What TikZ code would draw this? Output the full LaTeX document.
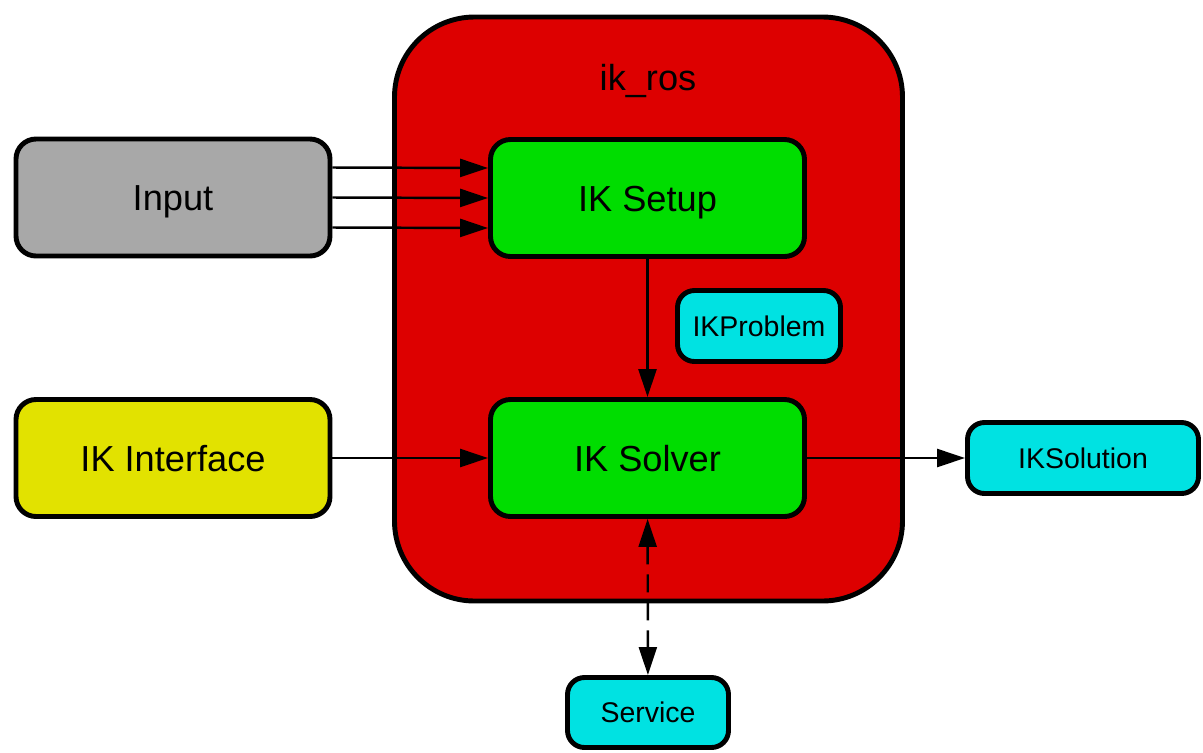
\documentclass[tikz,border=0pt]{standalone}
\usepackage{fontspec}
\setmainfont{Liberation Sans}
\usetikzlibrary{arrows.meta}
\definecolor{rosred}{RGB}{221,0,0}
\definecolor{setupgreen}{RGB}{0,221,0}
\definecolor{inputgray}{RGB}{168,168,168}
\definecolor{ifyellow}{RGB}{226,226,0}
\definecolor{msgcyan}{RGB}{0,226,226}
\tikzset{
  bigbox/.style={draw, line width=1.4pt, rounded corners=0.2cm, inner sep=0,
    minimum width=3.14cm, minimum height=1.17cm, text height=0.26cm, text depth=0pt,
    font=\fontsize{10.3}{12}\selectfont},
  msgbox/.style={draw, line width=1.4pt, rounded corners=0.17cm, inner sep=0,
    fill=msgcyan, minimum height=0.71cm, text height=0.205cm, text depth=0pt,
    font=\fontsize{8.1}{10}\selectfont},
  arr/.style={line width=0.7pt, -{Triangle[length=0.28cm,width=0.18cm]}}
}
\begin{document}
\begin{tikzpicture}
      \useasboundingbox (0,0) rectangle (12.03,7.52);
      \draw[line width=1.4pt, fill=rosred, rounded corners=0.8cm]
        (3.945,7.35) rectangle (9.025,1.51);
      \draw
        (6.48,6.75) node[font=\fontsize{10.3}{12}\selectfont, text height=0.26cm, text depth=0pt] (title){ik\_ros}
        (1.73,5.545) node[bigbox, fill=inputgray] (input){Input}
        (1.73,2.94) node[bigbox, fill=ifyellow] (iface){IK Interface}
        (6.475,5.54) node[bigbox, fill=setupgreen] (setup){IK Setup}
        (6.475,2.94) node[bigbox, fill=setupgreen] (solver){IK Solver}
        (7.59,4.26) node[msgbox, minimum width=1.63cm] (problem){IKProblem}
        (10.83,2.94) node[msgbox, minimum width=2.31cm] (solution){IKSolution}
        (6.48,0.395) node[msgbox, minimum width=1.61cm, minimum height=0.70cm] (service){Service};
      \begin{scope}[arr]
        \draw ([yshift=0.3cm]input.east) to ([yshift=0.3cm]setup.west);
        \draw (input.east) to (setup.west);
        \draw ([yshift=-0.3cm]input.east) to ([yshift=-0.3cm]setup.west);
        \draw (iface) to (solver);
        \draw (setup) to (solver);
        \draw (solver) to (solution);
        \draw[{Triangle[length=0.28cm,width=0.18cm]}-{Triangle[length=0.28cm,width=0.18cm]},
          dash pattern=on 0.18cm off 0.1cm] (solver) to (service);
      \end{scope}
    \end{tikzpicture}
\end{document}
